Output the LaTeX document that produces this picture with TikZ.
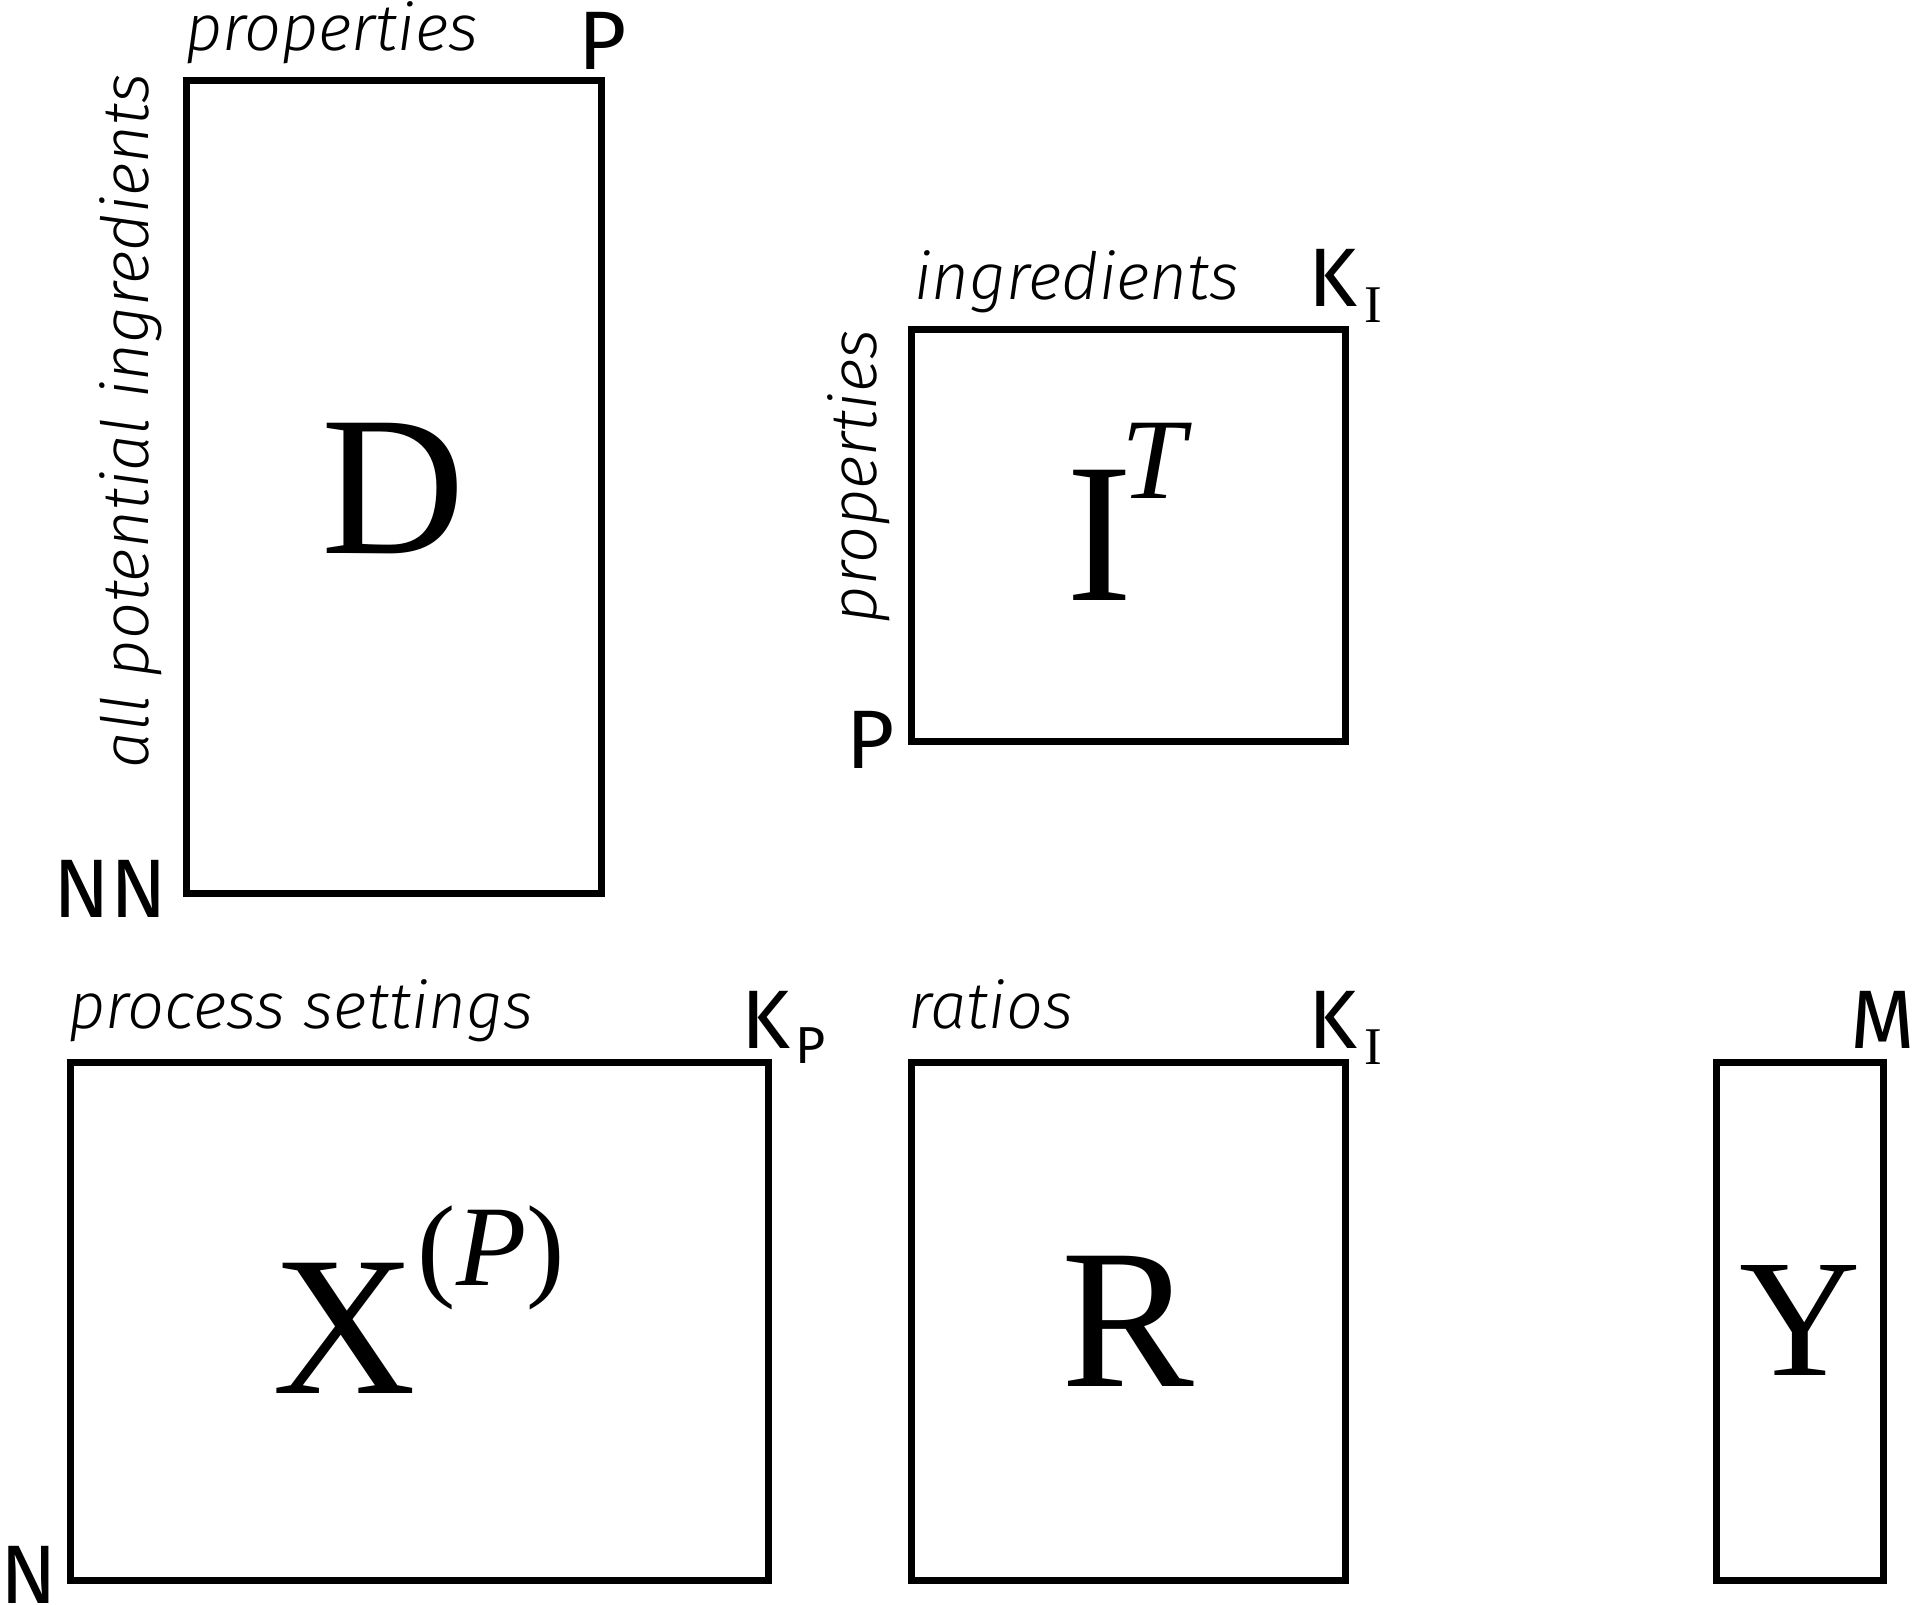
\documentclass[tikz,border=0pt]{standalone}
\usepackage{fontspec}
\setmainfont{Liberation Serif}
\newfontfamily\labit{Fira Sans Light Italic}
\newfontfamily\capsf{Fira Sans}
\tikzset{
  mat/.style={draw=black, line width=7pt, fill=none, inner sep=0pt, outer sep=0pt},
  txt/.style={inner sep=0pt, outer sep=0pt},
  lab/.style={txt, font=\labit\fontsize{65}{65}\selectfont},
  capl/.style={txt, font=\capsf\fontsize{83}{83}\selectfont},
  big/.style={txt, font=\fontsize{199}{199}\selectfont},
}
\newcommand{\serifsub}[1]{\raisebox{-16pt}{\rmfamily\fontsize{53}{53}\selectfont #1}}
\newcommand{\sanssub}[1]{\raisebox{-15pt}{\capsf\fontsize{52}{52}\selectfont #1}}
\newcommand{\supit}[2]{\raisebox{#1}{\fontsize{115}{115}\selectfont #2}}
\begin{document}
\begin{tikzpicture}[x=1pt,y=-1pt]
\useasboundingbox (0,0) rectangle (1914,1605);
% boxes
\node[mat, minimum width=415pt, minimum height=812pt] (Dbox) at (393.5,487) {};
\node[mat, minimum width=434pt, minimum height=412pt] (Ibox) at (1128,535) {};
\node[mat, minimum width=698pt, minimum height=518pt] (Xbox) at (419,1321) {};
\node[mat, minimum width=434pt, minimum height=518pt] (Rbox) at (1128,1321) {};
\node[mat, minimum width=167pt, minimum height=518pt] (Ybox) at (1799.5,1321) {};
% main letters
\node[big, anchor=base] (D) at (393.5,553) {D};
\node[big, anchor=base] (I) at (1126,600) {I\kern-12pt\supit{102pt}{\itshape T}};
\node[big, anchor=base] (X) at (418.5,1393) {X\kern2pt\supit{108pt}{(\itshape P\/\upshape)}};
\node[big, anchor=base] (R) at (1128,1386) {R};
\node[big, anchor=base, font=\fontsize{168}{168}\selectfont] (Y) at (1800,1375) {Y};
% labels of D
\node[lab, anchor=base west] (Dtop) at (185,51) {properties};
\node[capl, anchor=base] (DP) at (603,70) {P};
\node[lab, anchor=base west, rotate=90] (Dside) at (148,768) {all potential ingredients};
\node[capl, anchor=base east] (DN) at (167,917) {NN};
% labels of I
\node[lab, anchor=base west] (Itop) at (914,300) {ingredients};
\node[capl, anchor=base west] (IK) at (1308,307) {K\kern8pt\serifsub{I}};
\node[lab, anchor=base west, rotate=90] (Iside) at (876,623) {properties};
\node[capl, anchor=base east] (IP) at (895,768) {P};
% labels of X
\node[lab, anchor=base west] (Xtop) at (68,1028) {process settings};
\node[capl, anchor=base west] (XK) at (741,1048) {K\kern6pt\sanssub{P}};
\node[capl, anchor=base west] (XN) at (0,1603) {N};
% labels of R
\node[lab, anchor=base west] (Rtop) at (908,1028) {ratios};
\node[capl, anchor=base west] (RK) at (1308,1048) {K\kern8pt\serifsub{I}};
% label of Y
\node[capl, anchor=base west] (YM) at (1850,1048) {M};
\end{tikzpicture}
\end{document}
